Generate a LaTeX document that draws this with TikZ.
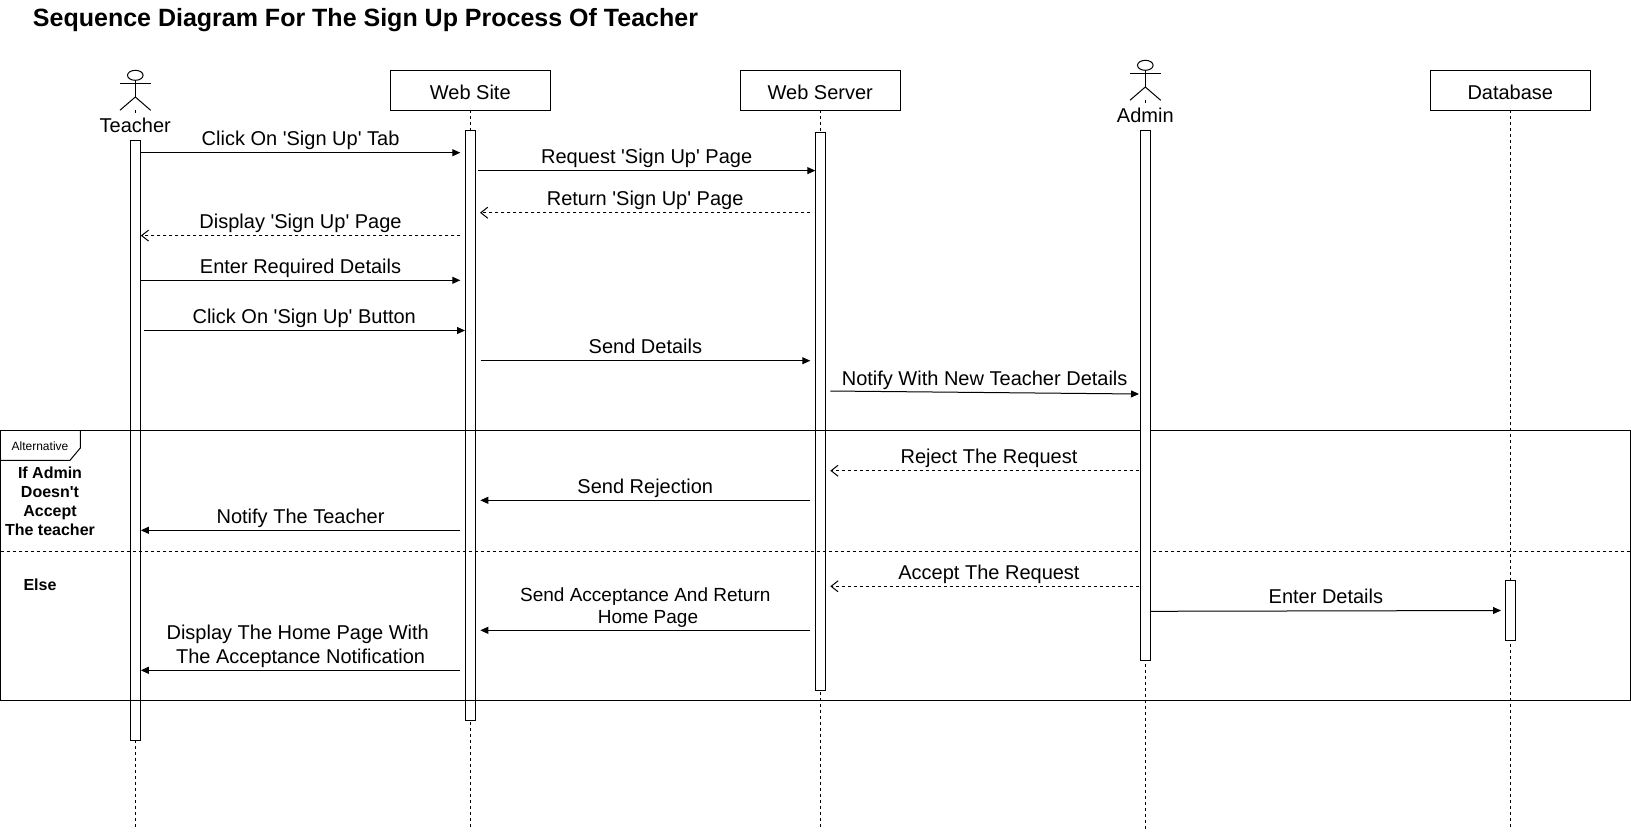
\documentclass[tikz,border=0pt]{standalone}
\usepackage{fontspec}
\setmainfont{Liberation Sans}
\usetikzlibrary{arrows.meta, shapes.geometric}

\newcommand{\sq}{\textquotesingle}

\tikzset{
    headbox/.style={draw, rectangle, outer sep=0pt, minimum width=160pt, minimum height=40pt, text height=18pt, text depth=0pt, font=\fontsize{20}{24}\selectfont},
    actorname/.style={fill=white, inner sep=0pt, outer sep=0pt, minimum height=24pt, font=\fontsize{20}{24}\selectfont},
    bar/.style={draw, fill=white, rectangle, inner sep=0pt, outer sep=0pt, minimum width=10pt},
    lifeline/.style={dash pattern=on 3pt off 3pt},
    callmsg/.style={-{Triangle[length=8pt,width=7pt]}},
    replymsg/.style={dash pattern=on 3pt off 3pt, -{Straight Barb[length=7pt,width=11pt]}},
    msglabel/.style={above=2.8pt, inner sep=0pt, text depth=4pt, align=center, font=\fontsize{20}{23.7}\selectfont},
    guard/.style={inner sep=0pt, align=center, font=\bfseries\fontsize{16}{19}\selectfont},
    stickman/.pic={
        \draw (0,5) ellipse [x radius=7.8pt, y radius=5pt];
        \draw (-15.4,13) -- (15.4,13);
        \draw (0,10) -- (0,26.7);
        \draw (-15.4,40) -- (0,26.7) -- (15.4,40);
    }
}

\begin{document}
\begin{tikzpicture}[x=1pt, y=-1pt, line width=1pt]
        \useasboundingbox (0,0) rectangle (1631,831);

        \node [inner sep=0pt, font=\bfseries\fontsize{25}{29}\selectfont] (title) at (365.5,20.5) {Sequence Diagram For The Sign Up Process Of Teacher};

%% heads
        \coordinate (teacher) at (135.3,110.3);
        \node [headbox] (website) at (470.3,90.3) {Web Site};
        \node [headbox] (webserver) at (820.3,90.3) {Web Server};
        \coordinate (admin) at (1145.3,100.3);
        \node [headbox] (database) at (1510.3,90.3) {Database};

%% lifelines
        \coordinate (teacherend) at (135.3,829);
        \coordinate (websiteend) at (470.3,829);
        \coordinate (webserverend) at (820.3,829);
        \coordinate (adminend) at (1145.3,829);
        \coordinate (databaseend) at (1510.3,829);
        \draw [lifeline] (teacher) -- (teacherend);
        \draw [lifeline] (website) -- (websiteend);
        \draw [lifeline] (webserver) -- (webserverend);
        \draw [lifeline] (admin) -- (adminend);
        \draw [lifeline] (database) -- (databaseend);

%% actors
        \pic at (135.3,70.3) {stickman};
        \pic at (1145.3,60.3) {stickman};
        \node [actorname] (teachername) at (135.3,125) {Teacher};
        \node [actorname] (adminname) at (1145.3,115) {Admin};

%% bars under the frame
        \node [bar, minimum height=600pt] (teacherbar) at (135.3,440.3) {};
        \node [bar, minimum height=590pt] (websitebar) at (470.3,425.3) {};
        \node [bar, minimum height=558pt] (webserverbar) at (820.3,411.3) {};

%% frame
        \node [draw, rectangle, inner sep=0pt, outer sep=0pt, minimum width=1630pt, minimum height=270pt] (frame) at (815.5,565.3) {};
        \draw (80.3,430.3) -- (80.3,448) -- (70,460.3) -- (0.5,460.3);
        \node [inner sep=0pt, font=\fontsize{12}{14}\selectfont] (alttag) at (40,446.4) {Alternative};
        \coordinate (divleft) at (0.5,551.3);
        \coordinate (divright) at (1630.5,551.3);
        \draw [lifeline] (divleft) -- (divright);
        \node [guard] (ifguard) at (50,501.5) {If Admin\\Doesn\sq{}t\\Accept\\The teacher};
        \node [guard] (elseguard) at (40,584.5) {Else};

%% bars over the frame
        \node [bar, minimum height=530pt] (adminbar) at (1145.3,395.3) {};
        \node [bar, minimum height=60pt] (databasebar) at (1510.3,610.3) {};

%% ends of the messages
        \coordinate (click1a) at (140.8,152.7); \coordinate (click1b) at (460.3,152.7);
        \coordinate (req1a) at (478,170.6); \coordinate (req1b) at (815.3,170.6);
        \coordinate (ret1a) at (810.3,212.7); \coordinate (ret1b) at (480,212.7);
        \coordinate (disp1a) at (460.3,235.6); \coordinate (disp1b) at (140.8,235.6);
        \coordinate (enter1a) at (140.8,280.3); \coordinate (enter1b) at (460.3,280.3);
        \coordinate (click2a) at (143.5,330.5); \coordinate (click2b) at (465,330.5);
        \coordinate (send1a) at (480.5,360.7); \coordinate (send1b) at (810.3,360.7);
        \coordinate (notify1a) at (830.3,391); \coordinate (notify1b) at (1139,394);
        \coordinate (rej1a) at (1139,470.7); \coordinate (rej1b) at (830.3,470.7);
        \coordinate (rej2a) at (810.3,500.3); \coordinate (rej2b) at (480.3,500.3);
        \coordinate (rej3a) at (460.3,530.3); \coordinate (rej3b) at (140.8,530.3);
        \coordinate (acc1a) at (1139,586.3); \coordinate (acc1b) at (830.3,586.3);
        \coordinate (acc2a) at (1150.8,611.3); \coordinate (acc2b) at (1501,610.5);
        \coordinate (acc3a) at (810.3,630.3); \coordinate (acc3b) at (480.3,630.3);
        \coordinate (acc4a) at (460.3,670.3); \coordinate (acc4b) at (140.8,670.3);

%% messages
        \path
                (click1a) edge [callmsg] node [msglabel] {Click On \sq{}Sign Up\sq{} Tab} (click1b)
                (req1a) edge [callmsg] node [msglabel] {Request \sq{}Sign Up\sq{} Page} (req1b)
                (ret1a) edge [replymsg] node [msglabel] {Return \sq{}Sign Up\sq{} Page} (ret1b)
                (disp1a) edge [replymsg] node [msglabel] {Display \sq{}Sign Up\sq{} Page} (disp1b)
                (enter1a) edge [callmsg] node [msglabel] {Enter Required Details} (enter1b)
                (click2a) edge [callmsg] node [msglabel] {Click On \sq{}Sign Up\sq{} Button} (click2b)
                (send1a) edge [callmsg] node [msglabel] {Send Details} (send1b)
                (notify1a) edge [callmsg] node [msglabel] {Notify With New Teacher Details} (notify1b)
                (rej1a) edge [replymsg] node [msglabel, pos=0.486] {Reject The Request} (rej1b)
                (rej2a) edge [callmsg] node [msglabel] {Send Rejection} (rej2b)
                (rej3a) edge [callmsg] node [msglabel] {Notify The Teacher} (rej3b)
                (acc1a) edge [replymsg] node [msglabel, pos=0.486] {Accept The Request} (acc1b)
                (acc2a) edge [callmsg] node [msglabel] {Enter Details} (acc2b)
                (acc3a) edge [callmsg] node [msglabel, font=\fontsize{19}{21.5}\selectfont] {Send Acceptance And Return\\\hspace*{5.3pt}Home Page} (acc3b)
                (acc4a) edge [callmsg] node [msglabel] {Display The Home Page With\hspace*{5.6pt}\\The Acceptance Notification} (acc4b)
                ;
\end{tikzpicture}
\end{document}
